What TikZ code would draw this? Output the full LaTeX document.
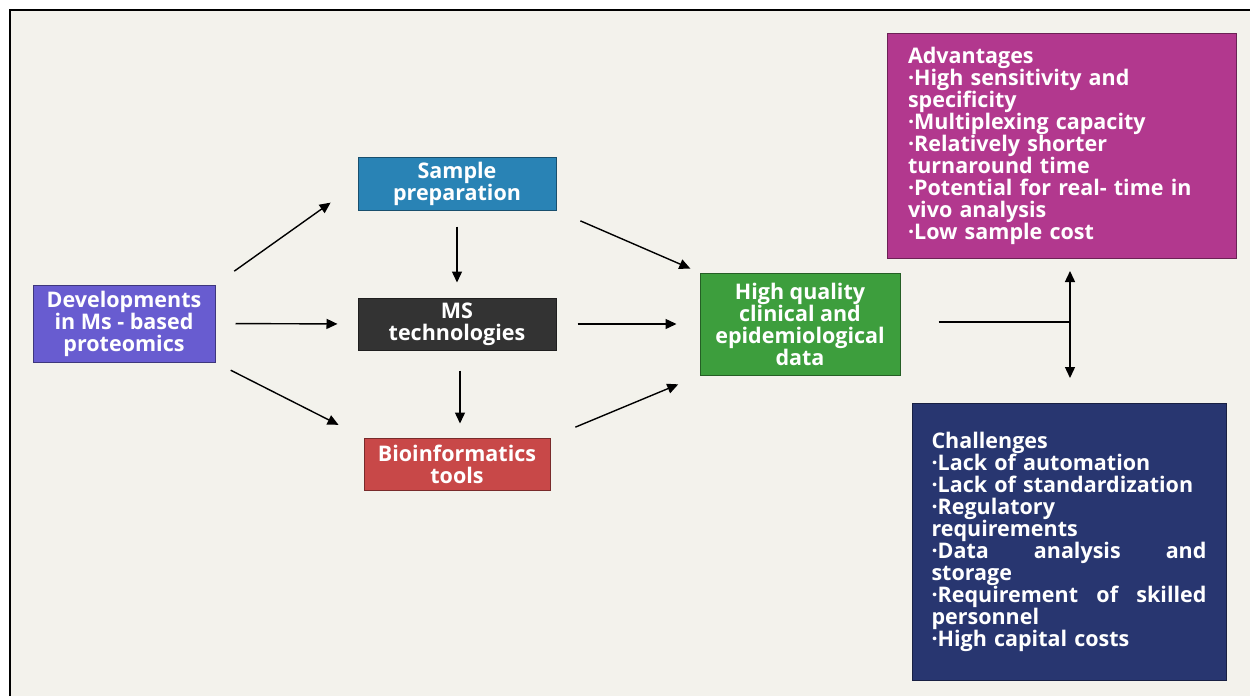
\documentclass[tikz,border=0pt]{standalone}
\usepackage{fontspec}
\setmainfont{Open Sans}
\usetikzlibrary{arrows.meta}
\definecolor{bgc}{RGB}{243,242,236}
\definecolor{devc}{RGB}{104,92,208}
\definecolor{sampc}{RGB}{41,131,181}
\definecolor{msc}{RGB}{51,51,51}
\definecolor{bioc}{RGB}{200,72,72}
\definecolor{hqc}{RGB}{61,158,61}
\definecolor{advc}{RGB}{178,56,142}
\definecolor{chalc}{RGB}{40,54,112}
\tikzset{
  boxs/.style={rectangle, draw=#1!60!black, fill=#1, line width=1pt, text=white,
     font=\bfseries\fontsize{21.5}{22}\selectfont, align=center, inner sep=0pt},
  arr/.style={line width=1.4pt, -{Triangle[length=11pt,width=10pt]}},
  plain/.style={line width=1.4pt}
}
\begin{document}
\begin{tikzpicture}[x=1pt,y=-1pt]
\useasboundingbox (0,0) rectangle (1250,696);
\fill[white] (0,0) rectangle (1250,696);
\fill[bgc] (10,10) rectangle (1250,696);
\draw[line width=1.5pt] (10,696) -- (10,10) -- (1250,10);

\node[boxs=devc, minimum width=182pt, minimum height=77pt] (dev) at (124,323.5)
  {Developments\\in Ms - based\\proteomics};
\node[boxs=sampc, minimum width=198pt, minimum height=53pt] (samp) at (457,183.5)
  {Sample\\preparation};
\node[boxs=msc, minimum width=198pt, minimum height=52pt] (ms) at (457,324)
  {MS\\technologies};
\node[boxs=bioc, minimum width=186pt, minimum height=52pt] (bio) at (457,464)
  {Bioinformatics\\tools};
\node[boxs=hqc, minimum width=200pt, minimum height=102pt] (hq) at (800,324)
  {High quality\\clinical and\\epidemiological\\data};
\node[boxs=advc, minimum width=349pt, minimum height=225pt, align=left,
      text width=307pt, inner xsep=21pt] (adv) at (1061.5,145.5)
  {Advantages\\
   ·High sensitivity and\\
   specificity\\
   ·Multiplexing capacity\\
   ·Relatively shorter\\
   turnaround time\\
   ·Potential for real- time in\\
   vivo analysis\\
   ·Low sample cost};
\node[boxs=chalc, minimum width=314pt, minimum height=277pt, align=left,
      text width=275pt, inner xsep=19.5pt] (chal) at (1069,541.5)
  {Challenges\\
   ·Lack of automation\\
   ·Lack of standardization\\
   ·Regulatory\\
   requirements\\
   \makebox[275pt]{·Data\hfill analysis\hfill and}\\
   storage\\
   \makebox[275pt]{·Requirement\hfill of\hfill skilled}\\
   personnel\\
   ·High capital costs};

\draw[arr, shorten <=23pt, shorten >=33pt] (dev.north east) -- (samp.west);
\draw[arr, shorten <=20pt, shorten >=20pt] (dev.east) -- (ms.west);
\draw[arr, shorten <=17pt, shorten >=28pt] (dev.south east) -- (bio.north west);
\draw[arr, shorten <=16pt, shorten >=15pt] (samp.south) -- (ms.north);
\draw[arr, shorten <=20pt, shorten >=14pt] ([xshift=3pt]ms.south) -- ([xshift=3pt]bio.north);
\draw[arr, shorten <=26pt, shorten >=10pt] (samp.south east) -- (hq.north west);
\draw[arr, shorten <=21pt, shorten >=23pt] (ms.east) -- (hq.west);
\draw[arr, shorten <=27pt, shorten >=23pt] (bio.north east) -- (hq.south west);

\coordinate (tj) at (1070,322);
\coordinate (tup) at (1070,271);
\coordinate (tdn) at (1070,378);
\draw[plain, shorten <=38pt] (hq.east |- tj) -- (tj);
\draw[arr] (tj) -- (tup);
\draw[arr] (tj) -- (tdn);
\end{tikzpicture}
\end{document}
